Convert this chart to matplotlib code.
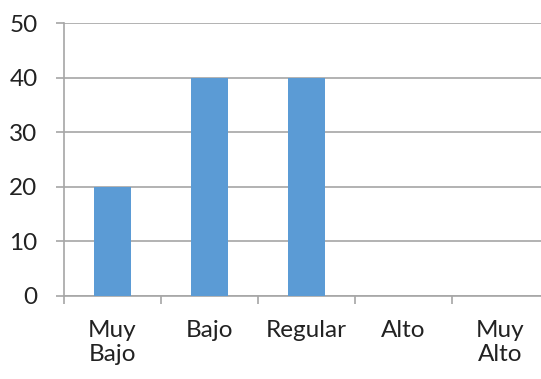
import matplotlib.pyplot as plt
import numpy as np

categories = ["Muy\nBajo", "Bajo", "Regular", "Alto", "Muy\nAlto"]
values = [20, 40, 40, 0, 0]
y_ticks = [0, 10, 20, 30, 40, 50]

plt.rcParams["font.family"] = ["Lato", "DejaVu Sans"]

fig = plt.figure(figsize=(5.41, 3.79), dpi=100)
ax = fig.add_axes([64 / 541, 1 - 296 / 379, 485 / 541, 273 / 379])

x = np.arange(len(categories))
ax.bar(x, values, width=0.39, color="#5B9BD5", zorder=3)

grid_color = "#A6A6A6"
ax.set_xlim(-0.5, len(categories) - 0.5)
ax.set_ylim(0, 50)
ax.set_yticks(y_ticks)
ax.yaxis.grid(True, color=grid_color, linewidth=1.2, zorder=0)

ax.set_xticks(x)
ax.set_xticklabels(categories, linespacing=1.15)
ax.set_xticks(np.arange(len(categories) + 1) - 0.5, minor=True)
ax.tick_params(axis="x", which="major", length=0, pad=17.5, labelsize=17.5,
               labelcolor="#222222")
ax.tick_params(axis="x", which="minor", length=6, width=1.2, color=grid_color)
ax.tick_params(axis="y", length=6, width=1.2, color=grid_color, pad=13, labelsize=17.5,
               labelcolor="#222222")

for side in ["top", "right"]:
    ax.spines[side].set_visible(False)
for side in ["left", "bottom"]:
    ax.spines[side].set_color(grid_color)
    ax.spines[side].set_linewidth(1.2)

fig.savefig("out.png", dpi=100)
